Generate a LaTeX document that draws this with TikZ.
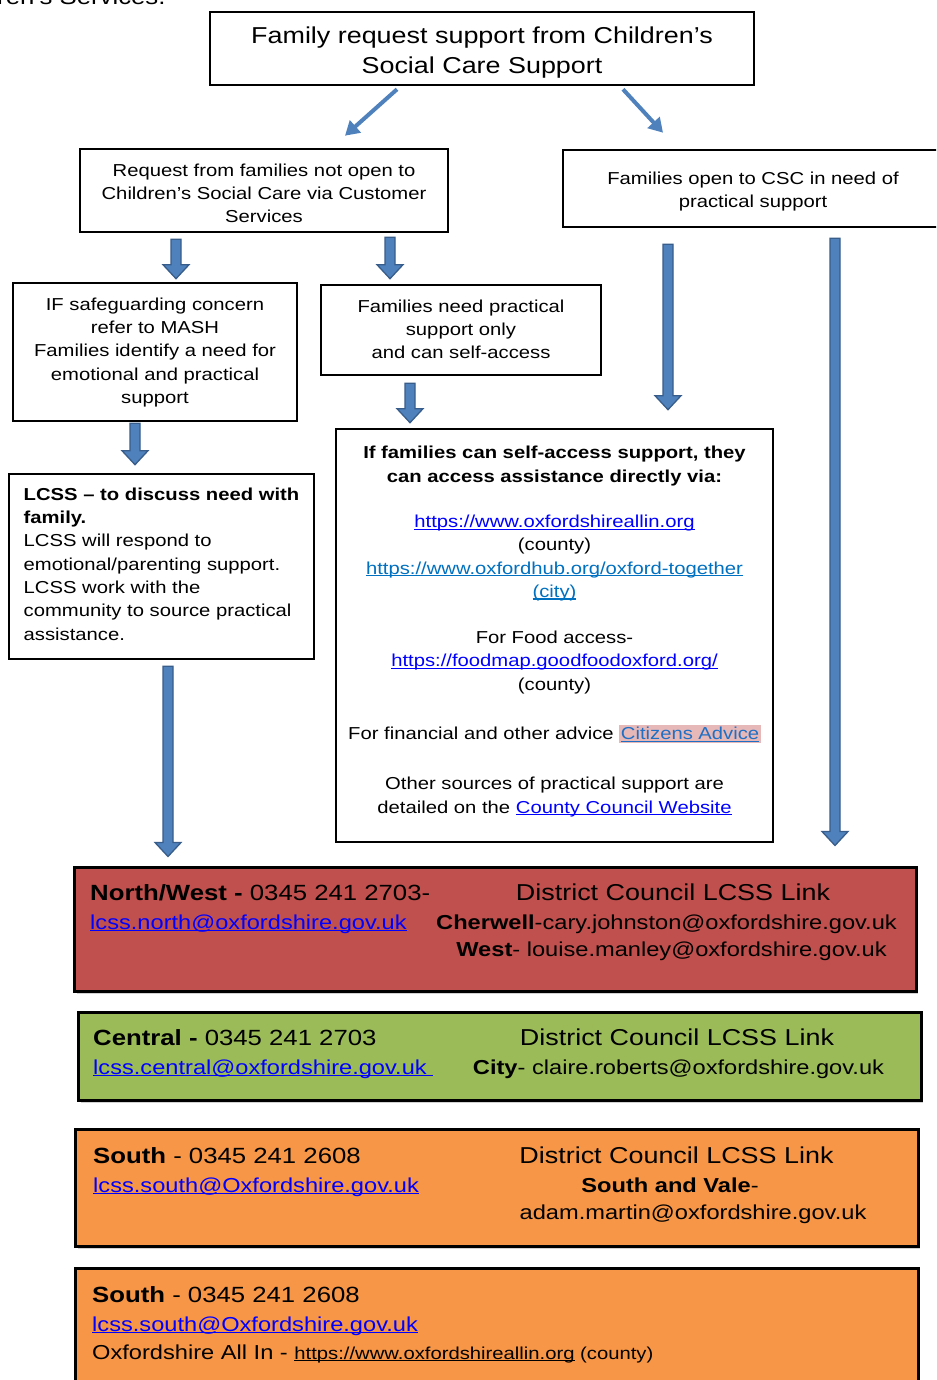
\documentclass[tikz,border=0pt]{standalone}
\usepackage{fontspec}
\setmainfont{Liberation Sans}[FakeStretch=1.17]
\usetikzlibrary{calc,arrows.meta,shadows}
\definecolor{arrowblue}{HTML}{4F81BD}
\definecolor{arrowedge}{HTML}{385D8A}
\definecolor{linkblue}{HTML}{0000FF}
\definecolor{hubblue}{HTML}{0070C0}
\definecolor{citblue}{HTML}{1F6FC5}
\definecolor{citpink}{HTML}{E6B9B8}
\definecolor{nwred}{HTML}{C0504D}
\definecolor{centralgreen}{HTML}{9BBB59}
\definecolor{southorange}{HTML}{F79646}

% underlined link text, rule at a fixed depth
\newcommand{\weblink}[1]{\leavevmode\setbox0\hbox{#1}\rlap{\rule[-2.2bp]{\wd0}{1.1bp}}\box0\relax}
% fat blue arrow pointing down, x taken from the start point
\newcommand{\blockdown}[2]{%
  \filldraw[blockarrow] let \p1=#1, \p2=#2 in
    (\x1-5bp,\y1) -- (\x1+5bp,\y1) -- (\x1+5bp,\y2+14bp) -- (\x1+13bp,\y2+14bp)
    -- (\x1,\y2) -- (\x1-13bp,\y2+14bp) -- (\x1-5bp,\y2+14bp) -- cycle;}

\tikzset{
  flowbox/.style={draw, line width=2.6bp, inner sep=0pt, fill=white},
  boxtext/.style={align=center, inner sep=0pt},
  bigtext/.style={font=\fontsize{23bp}{30bp}\selectfont},
  midtext/.style={font=\fontsize{17.3bp}{23.3bp}\selectfont},
  areabox/.style={draw, line width=3bp, drop shadow={shadow xshift=2bp, shadow yshift=-3bp, opacity=.35}},
  blockarrow/.style={fill=arrowblue, draw=arrowedge, line width=1.3bp},
  thinarrow/.style={draw=arrowblue, line width=4bp, -{Triangle[length=14bp,width=16bp]}},
  rowone/.style={anchor=base west, inner sep=0pt, font=\fontsize{22bp}{28bp}\selectfont},
  rowtwo/.style={anchor=base west, inner sep=0pt, font=\fontsize{20.2bp}{28bp}\selectfont},
  linkhead/.style={anchor=base, inner sep=0pt, font=\fontsize{23bp}{28bp}\selectfont},
  contact/.style={anchor=base, inner sep=0pt, font=\fontsize{20.2bp}{28bp}\selectfont}
}

\begin{document}
\begin{tikzpicture}[x=1bp, y=-1bp]
  \useasboundingbox (0,0) rectangle (936,1380);
  \fill[white] (0,0) rectangle (936,1380);
  \clip (0,0) rectangle (936,1380);

  \node[anchor=base west, inner sep=0pt, font=\fontsize{22bp}{26bp}\selectfont] (pagetext) at (-3,5) {ren’s Services.};

  % flow boxes
  \node[flowbox, minimum width=544bp, minimum height=73bp] (request) at (482,48.5) {};
  \node[flowbox, minimum width=368bp, minimum height=83bp] (notopen) at (264,190.5) {};
  \node[flowbox, minimum width=380bp, minimum height=77bp] (opencsc) at (753,188.5) {};
  \node[flowbox, minimum width=284bp, minimum height=138bp] (safeguard) at (155,352) {};
  \node[flowbox, minimum width=280bp, minimum height=90bp] (selfneed) at (461,330) {};
  \node[flowbox, minimum width=305bp, minimum height=185bp] (lcss) at (161.5,566.5) {};
  \node[flowbox, minimum width=437bp, minimum height=413bp] (selfaccess) at (554.5,635.5) {};

  \node[boxtext, bigtext] (requesttext) at ($(request)+(0,4)$)
    {Family request support from Children’s\\Social Care Support};
  \node[boxtext, midtext] (notopentext) at ($(notopen)+(0,3)$)
    {Request from families not open to\\Children’s Social Care via Customer\\Services};
  \node[boxtext, midtext] (opencsctext) at ($(opencsc)+(0,3)$)
    {Families open to CSC in need of\\practical support};
  \node[boxtext, midtext] (safeguardtext) at ($(safeguard)+(0,0.5)$)
    {IF safeguarding concern\\refer to MASH\\Families identify a need for\\emotional and practical\\support};
  \node[boxtext, midtext] (selfneedtext) at ($(selfneed)+(0,-0.5)$)
    {Families need practical\\support only\\and can self-access};
  \node[boxtext, midtext, align=left] (lcsstext) at ($(lcss)+(0,-2.5)$)
    {\textbf{LCSS – to discuss need with}\\\textbf{family.}\\LCSS will respond to\\emotional/parenting support.\\LCSS work with the\\community to source practical\\assistance.};
  \node[boxtext, midtext] (selfaccesstext) at ($(selfaccess)+(0,-4)$)
    {\textbf{If families can self-access support, they}\\
     \textbf{can access assistance directly via:}\\[22bp]
     {\color{linkblue}\weblink{https://www.oxfordshireallin.org}}\\
     (county)\\
     {\color{hubblue}\weblink{https://www.oxfordhub.org/oxford-together}}\\
     {\color{hubblue}\weblink{(city)}}\\[23bp]
     For Food access-\\
     {\color{linkblue}\weblink{https://foodmap.goodfoodoxford.org/}}\\
     (county)\\[26bp]
     For financial and other advice {\setlength{\fboxsep}{1.5bp}\colorbox{citpink}{\color{citblue}\weblink{Citizens Advice}}}\\[27bp]
     Other sources of practical support are\\
     detailed on the {\color{linkblue}\weblink{County Council Website}}};

  % area contacts
  \node[areabox, fill=nwred, minimum width=841bp, minimum height=124bp] (northwest) at (495.5,929) {};
  \node[areabox, fill=centralgreen, minimum width=842bp, minimum height=88bp] (central) at (500,1056) {};
  \node[areabox, fill=southorange, minimum width=842bp, minimum height=117bp] (southvale) at (497,1187.5) {};
  \node[areabox, fill=southorange, minimum width=842bp, minimum height=142bp] (southall) at (497,1339) {};

  \node[rowone] (nwphone) at (90,900) {\textbf{North/West -} 0345 241 2703-};
  \node[rowtwo, text=linkblue] (nwmail) at (90,929) {\weblink{lcss.north@oxfordshire.gov.uk}};
  \node[linkhead] (nwlink) at (673,900) {District Council LCSS Link};
  \node[contact] (cherwell) at (666.5,929) {\textbf{Cherwell}-cary.johnston@oxfordshire.gov.uk};
  \node[contact] (west) at (671.5,956) {\textbf{West}- louise.manley@oxfordshire.gov.uk};

  \node[rowone] (cphone) at (93,1045) {\textbf{Central -} 0345 241 2703};
  \node[rowtwo, text=linkblue] (cmail) at (93,1074) {\weblink{lcss.central@oxfordshire.gov.uk\ }};
  \node[linkhead] (clink) at (677,1045) {District Council LCSS Link};
  \node[contact] (city) at (678.5,1074) {\textbf{City}- claire.roberts@oxfordshire.gov.uk};

  \node[rowone] (sphone) at (93,1163) {\textbf{South} - 0345 241 2608};
  \node[rowtwo, text=linkblue] (smail) at (93,1192) {\weblink{lcss.south@Oxfordshire.gov.uk}};
  \node[linkhead] (slink) at (676.5,1163) {District Council LCSS Link};
  \node[contact] (vale) at (670,1192) {\textbf{South and Vale}-};
  \node[contact] (adam) at (693,1219) {adam.martin@oxfordshire.gov.uk};

  \node[rowone] (aphone) at (92,1302) {\textbf{South} - 0345 241 2608};
  \node[rowtwo, text=linkblue] (amail) at (92,1331) {\weblink{lcss.south@Oxfordshire.gov.uk}};
  \node[rowtwo] (allin) at (92,1359) {Oxfordshire All In - {\fontsize{17.3bp}{20bp}\selectfont\weblink{https://www.oxfordshireallin.org} (county)}};

  % arrows
  \draw[thinarrow] ($(request.south)+(-85,3)$) -- ($(notopen.north)+(81,-12)$);
  \draw[thinarrow] ($(request.south)+(141,3)$) -- ($(opencsc.north)+(-90,-16)$);
  \blockdown{($(notopen.south)+(-88,6)$)}{($(safeguard.north)+(0,-3)$)}
  \blockdown{($(notopen.south)+(126,4)$)}{($(selfneed.north)+(0,-5)$)}
  \blockdown{($(opencsc.south)+(-85,16)$)}{($(selfaccess.north)+(0,-18)$)}
  \blockdown{($(opencsc.south)+(82,10)$)}{($(northwest.north)+(0,-20)$)}
  \blockdown{($(safeguard.south)+(-20,1)$)}{($(lcss.north)+(0,-8)$)}
  \blockdown{($(selfneed.south)+(-51,7)$)}{($(selfaccess.north)+(0,-5)$)}
  \blockdown{($(lcss.south)+(6.5,6)$)}{($(northwest.north)+(0,-9)$)}
\end{tikzpicture}
\end{document}
